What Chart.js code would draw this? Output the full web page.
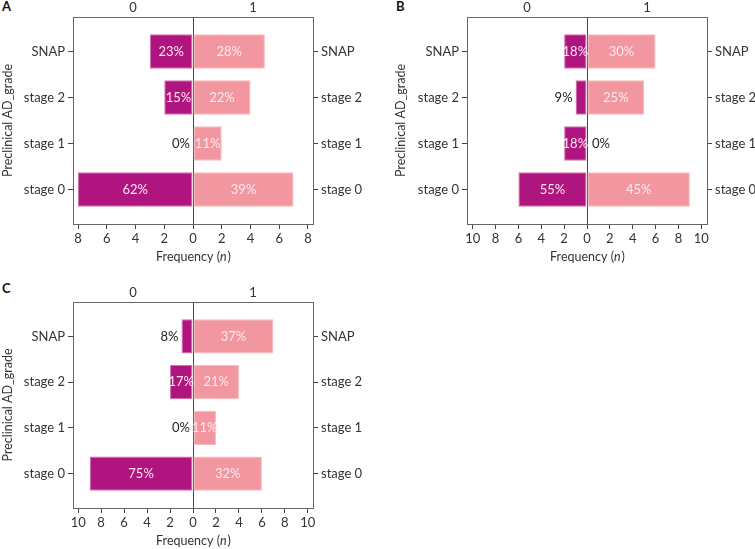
<!DOCTYPE html>
<html>
<head>
<meta charset="utf-8">
<script src="https://cdn.jsdelivr.net/npm/chart.js@4"></script>
<style>
  body { margin: 0; background: #fff; width: 755px; height: 549px; position: relative; overflow: hidden; }
  .panel { position: absolute; }
  .tag { position: absolute; font: bold 13px Lato, sans-serif; color: #111; }
</style>
</head>
<body>
<div class="tag" style="left:2px;top:-2px">A</div>
<div class="tag" style="left:396px;top:-2px">B</div>
<div class="tag" style="left:2px;top:280px">C</div>
<div class="panel" style="left:0;top:0;width:380px;height:265px"><canvas id="chartA"></canvas></div>
<div class="panel" style="left:393px;top:0;width:362px;height:265px"><canvas id="chartB"></canvas></div>
<div class="panel" style="left:0;top:285px;width:380px;height:264px"><canvas id="chartC"></canvas></div>
<script>
let grades = ['SNAP', 'stage 2', 'stage 1', 'stage 0'];
let groups = ['0', '1'];

// counts per grade, group 0 (left) and group 1 (right)
let countsA0 = [3, 2, 0, 8];
let countsA1 = [5, 4, 2, 7];
let pctA0 = ['23%', '15%', '0%', '62%'];
let pctA1 = ['28%', '22%', '11%', '39%'];

let countsB0 = [2, 1, 2, 6];
let countsB1 = [6, 5, 0, 9];
let pctB0 = ['18%', '9%', '18%', '55%'];
let pctB1 = ['30%', '25%', '0%', '45%'];

let countsC0 = [1, 2, 0, 9];
let countsC1 = [7, 4, 2, 6];
let pctC0 = ['8%', '17%', '0%', '75%'];
let pctC1 = ['37%', '21%', '11%', '32%'];

let ticksA = [-8, -6, -4, -2, 0, 2, 4, 6, 8];
let ticksBC = [-10, -8, -6, -4, -2, 0, 2, 4, 6, 8, 10];

let colLeft = '#b0147e';
let colRight = '#f2979f';
let font = 'Lato, sans-serif';

// percent labels inside bars, or just outside when the bar is too short
const pctLabels = {
    id: 'pctLabels',
    afterDatasetsDraw(chart) {
        let ctx = chart.ctx;
        ctx.save();
        ctx.font = '13px ' + font;
        ctx.textBaseline = 'middle';
        chart.data.datasets.forEach((ds, i) => {
            chart.getDatasetMeta(i).data.forEach((bar, j) => {
                let txt = ds.pct[j];
                let len = Math.abs(bar.x - bar.base);
                if (len > 15) {
                    ctx.fillStyle = '#fde8f0';
                    ctx.textAlign = 'center';
                    ctx.fillText(txt, (bar.x + bar.base) / 2, bar.y);
                } else if (ds.side < 0) {
                    ctx.fillStyle = '#222';
                    ctx.textAlign = 'right';
                    ctx.fillText(txt, bar.x - 3, bar.y);
                } else {
                    ctx.fillStyle = '#222';
                    ctx.textAlign = 'left';
                    ctx.fillText(txt, bar.x + 5, bar.y);
                }
            });
        });
        // x axis title with italic n
        let a = chart.chartArea;
        let yy = a.bottom + 33;
        let p1 = 'Frequency (', p2 = 'n', p3 = ')';
        ctx.font = '12.5px ' + font;
        let w1 = ctx.measureText(p1).width, w3 = ctx.measureText(p3).width;
        ctx.font = 'italic 12.5px ' + font;
        let w2 = ctx.measureText(p2).width;
        let x0 = (a.left + a.right) / 2 - (w1 + w2 + w3) / 2;
        ctx.fillStyle = '#333';
        ctx.textAlign = 'left';
        ctx.font = '12.5px ' + font;
        ctx.fillText(p1, x0, yy);
        ctx.font = 'italic 12.5px ' + font;
        ctx.fillText(p2, x0 + w1, yy);
        ctx.font = '12.5px ' + font;
        ctx.fillText(p3, x0 + w1 + w2 + 1, yy);
        ctx.restore();
    }
};

function yAxis(pos, width) {
    return {
        type: 'linear',
        position: pos,
        reverse: true,
        offset: false,
        min: -0.75,
        max: 3.75,
        afterBuildTicks: s => { s.ticks = grades.map((g, i) => ({ value: i })); },
        afterFit: s => { s.width = width; },
        ticks: {
            callback: v => grades[v],
            color: '#333',
            font: { family: font, size: 13 },
            padding: 3
        },
        grid: { offset: false, drawOnChartArea: false, tickLength: 5, tickColor: '#444' },
        border: { display: true, color: '#666' },
        title: {
            display: pos === 'left',
            text: 'Preclinical AD_grade',
            color: '#333',
            font: { family: font, size: 12.5 },
            padding: 0
        }
    };
}

function drawPanel(id, left, right, pctL, pctR, xTicks, lim, widths, bottomH) {
    return new Chart(document.getElementById(id), {
        type: 'bar',
        data: {
            datasets: [
                {
                    data: left.map((v, i) => ({ x: -v, y: i })),
                    pct: pctL, side: -1,
                    backgroundColor: colLeft, borderColor: '#d070a8', borderWidth: 1,
                    borderSkipped: false
                },
                {
                    data: right.map((v, i) => ({ x: v, y: i })),
                    pct: pctR, side: 1,
                    backgroundColor: colRight, borderColor: '#f8b8be', borderWidth: 1,
                    borderSkipped: false
                }
            ]
        },
        options: {
            indexAxis: 'y',
            responsive: true,
            maintainAspectRatio: false,
            animation: false,
            layout: { padding: 0 },
            grouped: false,
            barPercentage: 0.75,
            categoryPercentage: 1,
            plugins: { legend: { display: false }, tooltip: { enabled: false } },
            scales: {
                x: {
                    type: 'linear',
                    min: -lim,
                    max: lim,
                    afterBuildTicks: s => { s.ticks = xTicks.map(v => ({ value: v })); },
                    afterFit: s => { s.height = bottomH; },
                    ticks: {
                        callback: v => Math.abs(v),
                        color: '#333',
                        font: { family: font, size: 13 },
                        padding: 2,
                        maxRotation: 0
                    },
                    grid: {
                        color: c => (c.tick && c.tick.value === 0) ? '#444' : 'rgba(0,0,0,0)',
                        tickColor: '#444',
                        tickLength: 5
                    },
                    border: { display: true, color: '#666' }
                },
                x2: {
                    type: 'linear',
                    position: 'top',
                    min: -lim,
                    max: lim,
                    afterBuildTicks: s => { s.ticks = [{ value: -lim / 2 }, { value: lim / 2 }]; },
                    afterFit: s => { s.height = 17; },
                    ticks: {
                        callback: (v, i) => groups[i],
                        color: '#333',
                        font: { family: font, size: 13 },
                        padding: 1,
                        maxRotation: 0
                    },
                    grid: { display: false, drawTicks: false },
                    border: { display: true, color: '#666' }
                },
                y: yAxis('left', widths[0]),
                y2: yAxis('right', widths[1])
            }
        },
        plugins: [pctLabels]
    });
}

drawPanel('chartA', countsA0, countsA1, pctA0, pctA1, ticksA, 8.35, [73, 67], 41);
drawPanel('chartB', countsB0, countsB1, pctB0, pctB1, ticksBC, 10.5, [74, 48], 41);
drawPanel('chartC', countsC0, countsC1, pctC0, pctC1, ticksBC, 10.45, [73, 67], 41);
</script>
</body>
</html>
